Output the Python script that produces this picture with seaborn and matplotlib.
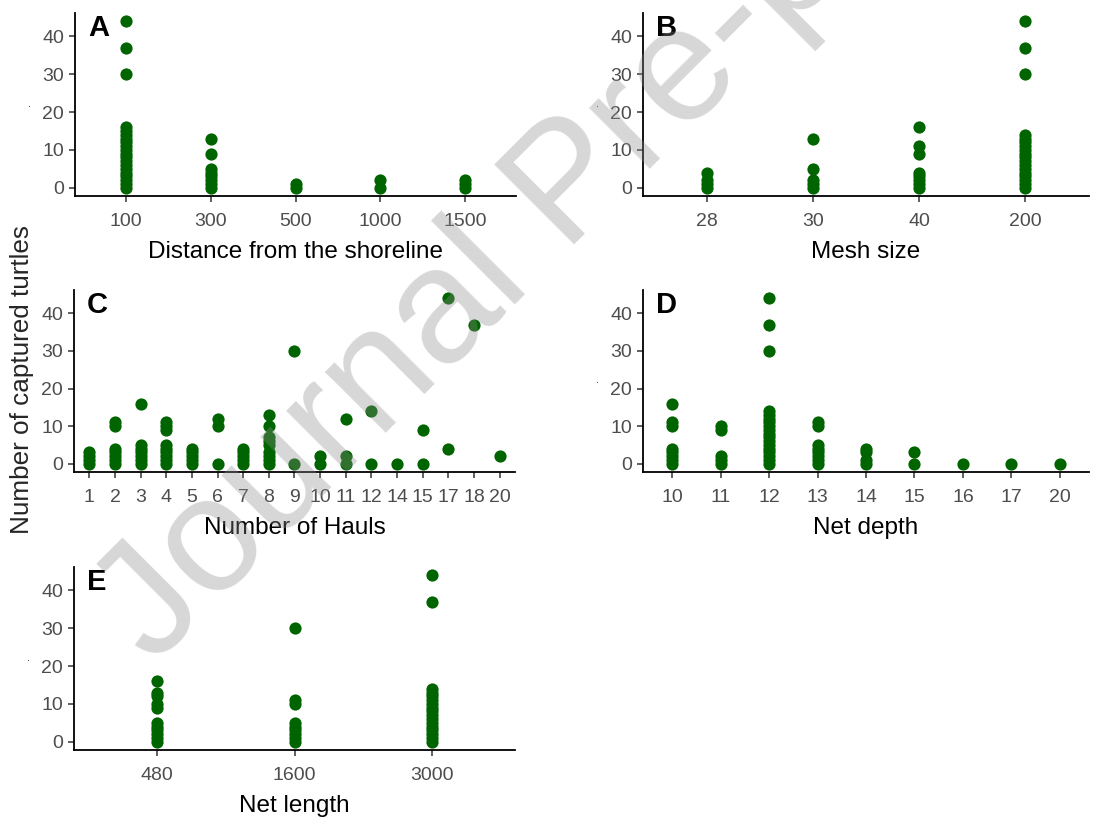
import pandas as pd
import matplotlib
matplotlib.use("Agg")
import matplotlib.pyplot as plt
import seaborn as sns

# number of captured turtles, grouped by each fishing variable
dist_order = ["100", "300", "500", "1000", "1500"]
dist_vals = {
    "100": [0, 1, 2, 3, 4, 5, 6, 7, 8, 9, 10, 11, 12, 13, 14, 15, 16, 30, 37, 44],
    "300": [0, 1, 2, 3, 4, 5, 9, 13],
    "500": [0, 1],
    "1000": [0, 2],
    "1500": [0, 1, 2],
}

mesh_order = ["28", "30", "40", "200"]
mesh_vals = {
    "28": [0, 1, 2, 4],
    "30": [0, 1, 2, 5, 13],
    "40": [0, 1, 2, 3, 4, 9, 11, 16],
    "200": [0, 1, 2, 3, 4, 5, 6, 7, 8, 9, 10, 11, 12, 13, 14, 30, 37, 44],
}

hauls_order = ["1", "2", "3", "4", "5", "6", "7", "8", "9", "10", "11", "12", "14", "15", "17", "18", "20"]
hauls_vals = {
    "1": [0, 1, 2, 3],
    "2": [0, 1, 2, 3, 4, 10, 11],
    "3": [0, 1, 2, 3, 4, 5, 16],
    "4": [0, 1, 2, 3, 4, 5, 9, 10, 11],
    "5": [0, 1, 2, 3, 4],
    "6": [0, 10, 12],
    "7": [0, 1, 2, 3, 4],
    "8": [0, 1, 2, 3, 5, 6, 7, 10, 13],
    "9": [0, 30],
    "10": [0, 2],
    "11": [0, 2, 12],
    "12": [0, 14],
    "14": [0],
    "15": [0, 9],
    "17": [4, 44],
    "18": [37],
    "20": [2],
}

depth_order = ["10", "11", "12", "13", "14", "15", "16", "17", "20"]
depth_vals = {
    "10": [0, 1, 2, 3, 4, 10, 11, 16],
    "11": [0, 1, 2, 9, 10],
    "12": [0, 1, 2, 3, 4, 5, 6, 7, 8, 9, 10, 11, 12, 13, 14, 30, 37, 44],
    "13": [0, 1, 2, 3, 4, 5, 10, 11],
    "14": [0, 1, 3, 4],
    "15": [0, 3],
    "16": [0],
    "17": [0],
    "20": [0],
}

length_order = ["480", "1600", "3000"]
length_vals = {
    "480": [0, 1, 2, 3, 4, 5, 9, 10, 12, 13, 16],
    "1600": [0, 1, 2, 3, 4, 5, 10, 11, 30],
    "3000": [0, 1, 2, 3, 4, 5, 6, 7, 8, 9, 10, 11, 12, 13, 14, 37, 44],
}


def to_long(vals):
    rows = [(k, v) for k, lst in vals.items() for v in lst]
    return pd.DataFrame(rows, columns=["cat", "turtles"])


sns.set_style("ticks")
plt.rcParams['font.family'] = ['Liberation Sans', 'DejaVu Sans']

W, H = 1113, 817
fig = plt.figure(figsize=(W / 100, H / 100), dpi=100)


def add_panel(left, right, top, bottom):
    return fig.add_axes([left / W, 1 - bottom / H, (right - left) / W, (bottom - top) / H])


def draw(ax, vals, order, xlabel, letter, ylab="."):
    df = to_long(vals)
    sns.stripplot(data=df, x="cat", y="turtles", order=order, jitter=False,
                  color="#006400", size=8.8, linewidth=0, ax=ax, zorder=3)
    ax.set_xlim(-0.6, len(order) - 0.4)
    ax.set_ylim(-2.2, 46.2)
    ax.set_yticks([0, 10, 20, 30, 40])
    ax.set_xlabel(xlabel, fontsize=17.5, color="black", labelpad=8)
    ax.set_ylabel(ylab, fontsize=8, labelpad=7)
    ax.tick_params(axis="both", labelsize=14, labelcolor="#4D4D4D", color="#333333",
                   length=4, width=1.1, pad=4)
    ax.tick_params(axis="x", pad=8)
    for s in ["left", "bottom"]:
        ax.spines[s].set_linewidth(1.3)
        ax.spines[s].set_color("black")
    sns.despine(ax=ax)
    ax.text(0.03, 0.995, letter, transform=ax.transAxes, fontsize=21, color="black",
            fontweight="bold", va="top", ha="left")


draw(add_panel(75, 516, 13, 196), dist_vals, dist_order, "Distance from the shoreline", "A")
draw(add_panel(643, 1089, 13, 196), mesh_vals, mesh_order, "Mesh size", "B")
# panel C's own "." label sits under the shared y title
draw(add_panel(74, 515, 290, 472), hauls_vals, hauls_order, "Number of Hauls", "C", ylab="")
draw(add_panel(643, 1089, 290, 472), depth_vals, depth_order, "Net depth", "D")
draw(add_panel(74, 515, 567, 750), length_vals, length_order, "Net length", "E")

fig.text(22 / W, 1 - 380 / H, "Number of captured turtles", rotation=90,
         fontsize=18.8, ha="center", va="center")

# watermark
fig.text(571 / W, 1 - 189 / H, "Journal Pre-proof", rotation=45, fontsize=118,
         color="#8c8c8c", alpha=0.35, ha="center", va="center", zorder=10)

fig.savefig("out.png", dpi=100)
